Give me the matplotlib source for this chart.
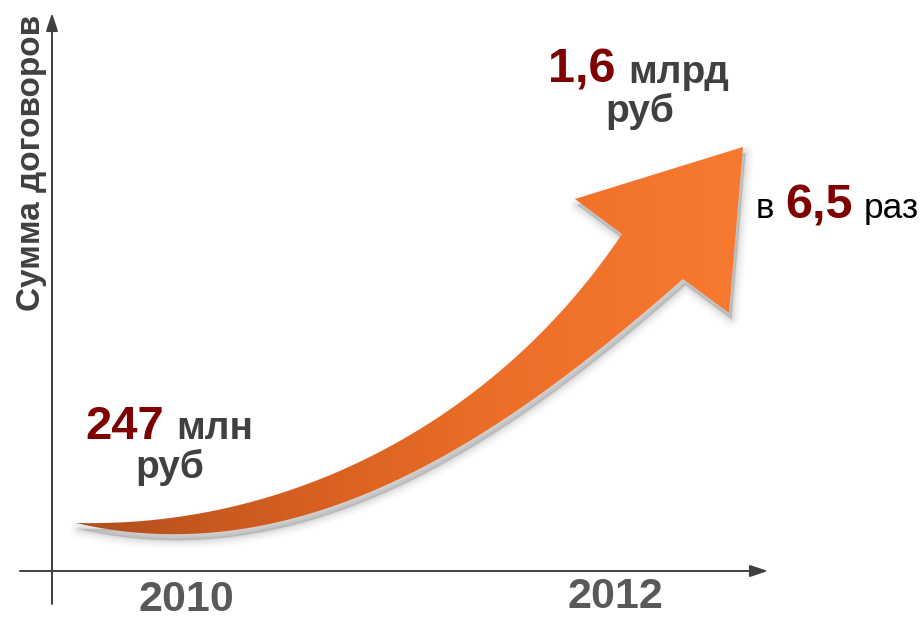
import numpy as np
import matplotlib
matplotlib.use("Agg")
import matplotlib.pyplot as plt
from matplotlib.path import Path
from matplotlib.patches import PathPatch, FancyArrowPatch
from matplotlib.colors import to_rgb

plt.rcParams['font.family'] = ['Liberation Sans', 'DejaVu Sans']

# ---- data ----
years = ["2010", "2012"]
start_value = 247          # млн руб
start_unit = "млн"
end_value = 1.6            # млрд руб
end_unit = "млрд"
currency = "руб"
growth = 6.5               # раз
y_label = "Сумма договоров"

def ru_num(v):
    if float(v).is_integer():
        return f"{int(v)}"
    return f"{v:.1f}".replace(".", ",")

# ---- figure in pixel coordinates ----
W, H = 924, 620
fig = plt.figure(figsize=(W / 100, H / 100), dpi=100)
ax = fig.add_axes([0, 0, 1, 1])
ax.set_xlim(0, W)
ax.set_ylim(H, 0)
ax.axis("off")

AX_COL = "#404040"
RED = "#7f0000"
GRAY = "#404040"
YEAR_COL = "#595959"

# axes with arrows
ax.add_patch(FancyArrowPatch((52, 604), (52, 13), arrowstyle="-|>,head_length=0.9,head_width=0.3",
                             mutation_scale=12, color=AX_COL, lw=1.4, shrinkA=0, shrinkB=0))
ax.add_patch(FancyArrowPatch((20, 571), (768, 571), arrowstyle="-|>,head_length=0.9,head_width=0.3",
                             mutation_scale=12, color=AX_COL, lw=1.4, shrinkA=0, shrinkB=0))

# ---- curved arrow shape (smooth cubic edges fitted to outline points) ----
def bezier_edge(pts, n=200):
    pts = np.asarray(pts, float)
    d = np.r_[0, np.cumsum(np.hypot(*np.diff(pts, axis=0).T))]
    t = d / d[-1]
    P0, P3 = pts[0], pts[-1]
    b0, b1, b2, b3 = (1 - t) ** 3, 3 * t * (1 - t) ** 2, 3 * t ** 2 * (1 - t), t ** 3
    A = np.c_[b1, b2]
    rhs = pts - np.outer(b0, P0) - np.outer(b3, P3)
    sol, *_ = np.linalg.lstsq(A, rhs, rcond=None)
    P1, P2 = sol
    s = np.linspace(0, 1, n)[:, None]
    return ((1 - s) ** 3 * P0 + 3 * s * (1 - s) ** 2 * P1 + 3 * s ** 2 * (1 - s) * P2 + s ** 3 * P3)

upper = bezier_edge([(76, 523), (177, 513), (300, 487), (400, 447), (500, 367), (567, 303), (622, 234)])
lower = bezier_edge([(76, 523), (177, 532), (300, 517), (400, 483), (500, 417), (600, 350), (683, 279)])
head = np.array([(575, 199), (743, 147), (729, 313)])
outline = np.vstack([upper, head, lower[::-1]])
verts = np.vstack([outline, outline[:1]])
path = Path(verts, closed=True)

# soft shadow
for lw, a in [(13, 0.015), (10, 0.02), (7, 0.03), (4, 0.04), (1.5, 0.05)]:
    sp = Path(verts + np.array([2.5, 6]), closed=True)
    ax.add_patch(PathPatch(sp, facecolor=(0, 0, 0, a), edgecolor=(0, 0, 0, a), lw=lw,
                           joinstyle="round", zorder=2))

# gradient fill
stops_x = [76, 200, 350, 500, 650, 745]
stops_c = ["#ad4c1c", "#c6581f", "#dc6322", "#ec6e28", "#f4752d", "#f87a30"]
xs = np.arange(W) + 0.5
cols = np.array([to_rgb(c) for c in stops_c])
grad = np.zeros((1, W, 3))
for k in range(3):
    grad[0, :, k] = np.interp(xs, stops_x, cols[:, k])
grad = np.repeat(grad, H, axis=0)
patch = PathPatch(path, facecolor="none", edgecolor="none", zorder=3)
ax.add_patch(patch)
im = ax.imshow(grad, extent=[0, W, H, 0], zorder=3, interpolation="bilinear", aspect="auto")
im.set_clip_path(patch)
ax.set_xlim(0, W)
ax.set_ylim(H, 0)

# ---- texts ----
ax.text(40, 163, y_label, rotation=90, rotation_mode="anchor", ha="center", va="baseline",
        fontsize=24, fontweight="bold", color=GRAY, zorder=5)

ax.text(186, 611, years[0], ha="center", va="baseline", fontsize=31, fontweight="bold", color=YEAR_COL)
ax.text(615, 608, years[1], ha="center", va="baseline", fontsize=31, fontweight="bold", color=YEAR_COL)

ax.text(85, 439, ru_num(start_value), ha="left", va="baseline", fontsize=34, fontweight="bold", color=RED)
ax.text(176, 439, start_unit, ha="left", va="baseline", fontsize=28, fontweight="bold", color=GRAY)
ax.text(135, 478, currency, ha="left", va="baseline", fontsize=28, fontweight="bold", color=GRAY)

ax.text(548, 83, ru_num(end_value), ha="left", va="baseline", fontsize=35, fontweight="bold", color=RED)
ax.text(628, 83, end_unit, ha="left", va="baseline", fontsize=28, fontweight="bold", color=GRAY)
ax.text(605, 122, currency, ha="left", va="baseline", fontsize=28, fontweight="bold", color=GRAY)

ax.text(756, 218, "в", ha="left", va="baseline", fontsize=25, color="black")
ax.text(785, 218, ru_num(growth), ha="left", va="baseline", fontsize=35, fontweight="bold", color=RED)
ax.text(864, 218, "раз", ha="left", va="baseline", fontsize=25.5, color="black")

fig.savefig("out.png", dpi=100)
